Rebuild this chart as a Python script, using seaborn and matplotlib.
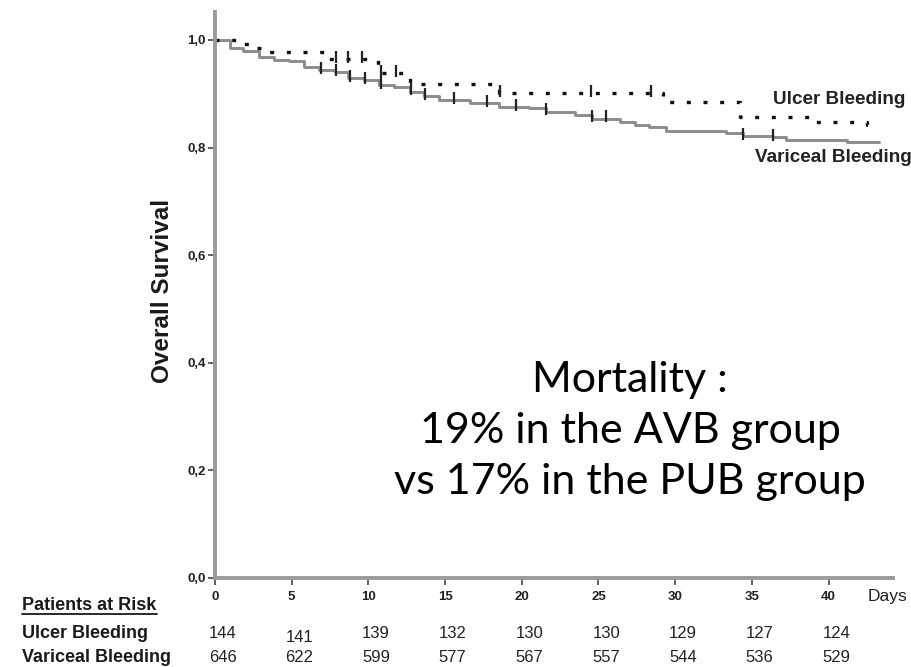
import numpy as np
import pandas as pd
import matplotlib
matplotlib.use("Agg")
import matplotlib.pyplot as plt
from matplotlib import font_manager
import seaborn as sns

# Kaplan-Meier step data (days, survival) for the two groups
ulcer_days = [0, 1.5, 2.3, 3.3, 7.2, 10.6, 12.7, 18.5, 29.2, 34.2, 39.2, 42.5, 43.3]
ulcer_surv = [1.0, 0.993, 0.986, 0.978, 0.964, 0.938, 0.918, 0.901, 0.885, 0.857, 0.848, 0.842, 0.842]
ulcer_censored = [7.9, 8.7, 9.6, 10.8, 11.8, 18.6, 24.5, 28.4]

variceal_days = [0, 1.0, 1.8, 2.9, 3.85, 4.8, 5.8, 6.8, 7.8, 8.7, 9.7, 10.7, 11.7,
                 12.7, 13.6, 14.6, 16.6, 18.5, 20.5, 21.6, 23.5, 24.6, 26.4, 27.4,
                 28.3, 29.4, 33.3, 34.4, 36.4, 37.2, 41.2, 43.3]
variceal_surv = [1.0, 0.985, 0.980, 0.969, 0.963, 0.960, 0.950, 0.944, 0.941, 0.929,
                 0.926, 0.916, 0.912, 0.904, 0.895, 0.888, 0.882, 0.876, 0.873, 0.867,
                 0.861, 0.854, 0.848, 0.842, 0.839, 0.830, 0.827, 0.822, 0.819, 0.815,
                 0.811, 0.811]
variceal_censored = [6.9, 7.9, 8.8, 9.8, 10.8, 12.8, 13.7, 15.6, 17.7, 19.6, 21.6,
                     24.6, 25.5, 34.4, 36.4]

risk_days = [0, 5, 10, 15, 20, 25, 30, 35, 40]
risk_ulcer = [144, 141, 139, 132, 130, 130, 129, 127, 124]
risk_variceal = [646, 622, 599, 577, 567, 557, 544, 536, 529]

y_ticks = [0.0, 0.2, 0.4, 0.6, 0.8, 1.0]
y_tick_labels = ["0,0", "0,2", "0,4", "0,6", "0,8", "1,0"]

sns.set_theme(style="white")
plt.rcParams["font.family"] = ["Liberation Sans", "DejaVu Sans"]

installed = {f.name for f in font_manager.fontManager.ttflist}
if "Liberation Sans Narrow" in installed:
    num_family, num_size = ["Liberation Sans Narrow", "Liberation Sans"], 14
else:
    num_family, num_size = ["Liberation Sans", "DejaVu Sans"], 12

W, H = 912, 667
fig = plt.figure(figsize=(W / 100, H / 100), dpi=100)
ax = fig.add_axes([215 / W, 1 - 578 / H, (893 - 215) / W, (578 - 12) / H])

df_u = pd.DataFrame({"day": ulcer_days, "surv": ulcer_surv})
df_v = pd.DataFrame({"day": variceal_days, "surv": variceal_surv})

sns.lineplot(data=df_v, x="day", y="surv", ax=ax, estimator=None, sort=False,
             drawstyle="steps-post", color="#8c8c8c", linewidth=2.1)
sns.lineplot(data=df_u, x="day", y="surv", ax=ax, estimator=None, sort=False,
             drawstyle="steps-post", color="#111111", linewidth=2.4,
             dashes=False, linestyle=(0, (1.2, 3.8)))


def step_value(days, surv, t):
    i = np.searchsorted(days, t, side="right") - 1
    return surv[i]


cu = pd.DataFrame({"day": ulcer_censored,
                   "surv": [step_value(ulcer_days, ulcer_surv, t) for t in ulcer_censored]})
cv = pd.DataFrame({"day": variceal_censored,
                   "surv": [step_value(variceal_days, variceal_surv, t) for t in variceal_censored]})
for d in (cu, cv):
    ax.plot(d["day"], d["surv"] + 0.004, linestyle="none", marker="|",
            markersize=8, markeredgewidth=1.6, color="#222222")

ax.set_xlim(0, 44.2)
ax.set_ylim(0, 1.052)
ax.set_xticks(risk_days)
ax.set_xticklabels([str(d) for d in risk_days])
ax.set_yticks(y_ticks)
ax.set_yticklabels(y_tick_labels)
ax.set_xlabel("")
ax.set_ylabel("")

for side in ("top", "right"):
    ax.spines[side].set_visible(False)
for side in ("left", "bottom"):
    ax.spines[side].set_color("#9a9a9a")
    ax.spines[side].set_linewidth(2.8)

ax.tick_params(axis="both", which="major", direction="out", length=5, width=1.3,
               color="#555555", labelsize=9.5, labelcolor="#222222",
               left=True, bottom=True)
ax.tick_params(axis="x", pad=4)
ax.tick_params(axis="y", pad=1.5)
for lab in ax.get_xticklabels() + ax.get_yticklabels():
    lab.set_fontweight("bold")

# curve labels
fig.text(905 / W, 1 - 100 / H, "Ulcer Bleeding", ha="right", va="center",
         fontsize=13.6, fontweight="bold", color="#222222")
fig.text(912 / W, 1 - 158 / H, "Variceal Bleeding", ha="right", va="center",
         fontsize=13.6, fontweight="bold", color="#222222")

# y axis title
fig.text(163 / W, 1 - 291 / H, "Overall Survival", rotation=90, ha="center", va="center",
         fontsize=17.5, fontweight="bold", color="#1a1a1a")

# x axis unit
fig.text(888 / W, 1 - 597 / H, "Days", ha="center", va="center",
         fontsize=12.5, color="#222222")

# annotation
for txt, y in [("Mortality :", 380), ("19% in the AVB group", 431), ("vs 17% in the PUB group", 482)]:
    fig.text(630 / W, 1 - y / H, txt, ha="center", va="center",
             fontsize=31, color="#000000", family=["Lato", "DejaVu Sans"])

# patients at risk table
fig.text(22 / W, 1 - 606 / H, "Patients at Risk", ha="left", va="center",
         fontsize=13, fontweight="bold", color="#1a1a1a")
fig.add_artist(plt.Line2D([22 / W, 157 / W], [1 - 614 / H, 1 - 614 / H],
                          color="#1a1a1a", linewidth=1.3))
fig.text(22 / W, 1 - 634 / H, "Ulcer Bleeding", ha="left", va="center",
         fontsize=13, fontweight="bold", color="#1a1a1a")
fig.text(22 / W, 1 - 657 / H, "Variceal Bleeding", ha="left", va="center",
         fontsize=13, fontweight="bold", color="#1a1a1a")

for d, nu, nv in zip(risk_days, risk_ulcer, risk_variceal):
    xd = ax.transData.transform((d + 0.5, 0))[0] / W
    yu = 633 if nu != 141 else 637
    fig.text(xd, 1 - yu / H, str(nu), ha="center", va="center", fontsize=num_size,
             color="#222222", family=num_family)
    fig.text(xd, 1 - 657 / H, str(nv), ha="center", va="center", fontsize=num_size,
             color="#222222", family=num_family)

fig.savefig("out.png", dpi=100, facecolor="white")
